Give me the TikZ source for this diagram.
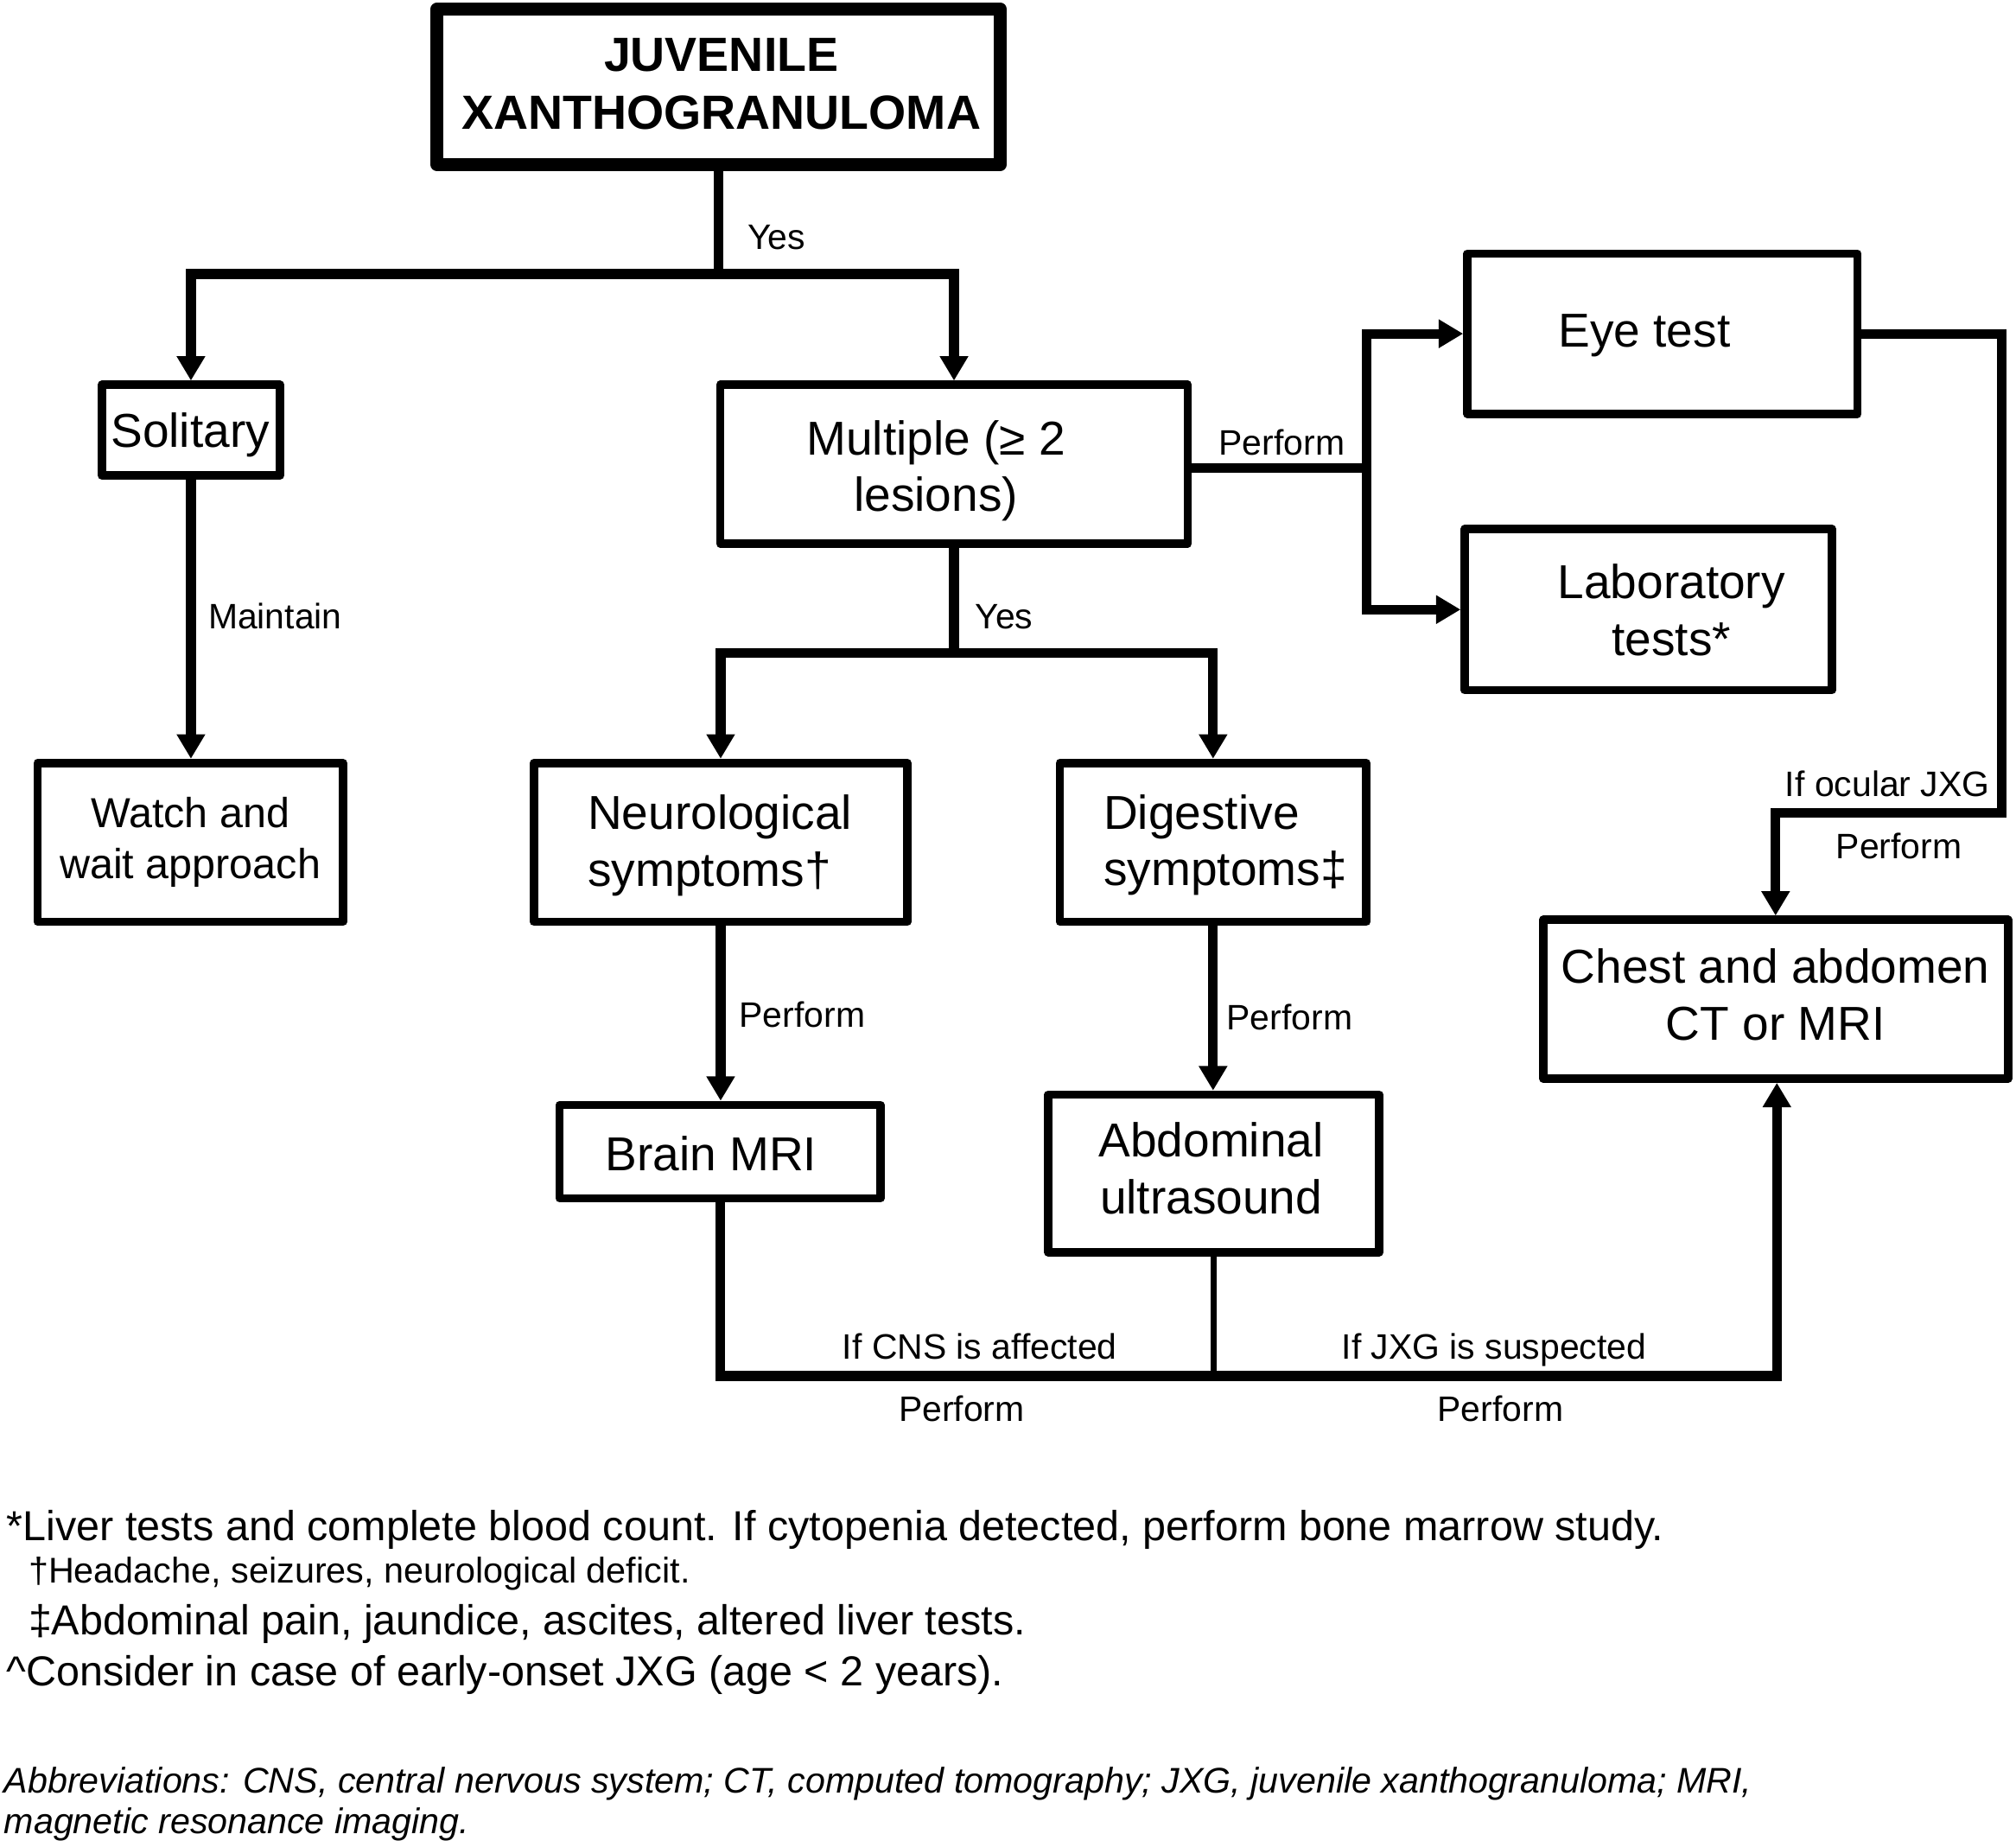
\documentclass[tikz,border=0pt]{standalone}
\usepackage{fontspec}
\setmainfont{Liberation Sans}
\usetikzlibrary{arrows.meta}
\tikzset{
 box/.style={draw, line width=6.5pt, line join=round, inner sep=0pt},
 btext/.style={inner sep=0pt, align=center, font=\fontsize{37}{44}\selectfont},
 conn/.style={line width=7.5pt},
 arr/.style={line width=7.5pt, -{Triangle[length=19pt,width=21pt]}},
 lbl/.style={inner sep=0pt, anchor=base, font=\fontsize{27.5}{33}\selectfont},
 fn/.style={inner sep=0pt, anchor=base west, font=\fontsize{32.6}{39}\selectfont},
}
\begin{document}
\begin{tikzpicture}[x=1pt,y=-1pt]
\fill[white] (0,0) rectangle (1568,1436);
\useasboundingbox (0,0) rectangle (1568,1436);

% boxes
\node[box, line width=10pt, minimum width=438pt, minimum height=121pt] (jxg) at (559,67.5) {};
\node[btext, font=\bfseries\fontsize{37.3}{45}\selectfont] (jxgt) at (561,65.5) {JUVENILE\\XANTHOGRANULOMA};
\node[box, minimum width=138.5pt, minimum height=70.5pt] (sol) at (148.5,334.5) {};
\node[btext] (solt) at (148,338.5) {Solitary};
\node[box, minimum width=363.5pt, minimum height=123.5pt] (multi) at (742,361) {};
\node[btext] (multit) at (728,366) {Multiple (≥ 2\\lesions)};
\node[box, minimum width=303.5pt, minimum height=124.5pt] (eye) at (1293,259.5) {};
\node[btext] (eyet) at (1279,261) {Eye test};
\node[box, minimum width=285.5pt, minimum height=125.5pt] (lab) at (1282,474) {};
\node[btext] (labt) at (1300,474.5) {Laboratory\\tests*};
\node[box, minimum width=237.5pt, minimum height=123.5pt] (watch) at (148,655) {};
\node[btext, font=\fontsize{32.6}{40}\selectfont] (watcht) at (148,655) {Watch and\\wait approach};
\node[box, minimum width=290.5pt, minimum height=123.5pt] (neuro) at (560.5,655) {};
\node[btext, align=left] (neurot) at (560,657.5) {Neurological\\symptoms†};
\node[box, minimum width=238.5pt, minimum height=123.5pt] (dig) at (943.5,655) {};
\node[btext, align=left] (digt) at (953,657) {Digestive\\symptoms‡};
\node[box, minimum width=249.5pt, minimum height=72.5pt] (brain) at (560,895.5) {};
\node[btext] (braint) at (553,897) {Brain MRI};
\node[box, minimum width=257.5pt, minimum height=122.5pt] (abd) at (944,912.5) {};
\node[btext] (abdt) at (942,908.5) {Abdominal\\ultrasound};
\node[box, minimum width=361.5pt, minimum height=123.5pt] (chest) at (1381,777) {};
\node[btext] (chestt) at (1381,773.5) {Chest and abdomen\\CT or MRI};

% junction coordinates
\coordinate (b1) at (559,213);
\coordinate (b2) at (1063,364);
\coordinate (b3) at (742,508);
\coordinate (c1) at (1557,632);
\coordinate (c3) at (1382,1070);

% connectors
\draw[conn] (jxg.south) -- (b1);
\draw[arr] (b1) -| (sol.north);
\draw[arr] (b1) -| (multi.north);
\draw[arr] (sol.south) -- (sol.south |- watch.north);
\draw[conn] (multi.east |- b2) -- (b2);
\draw[arr] (b2) |- (eye.west);
\draw[arr] (b2) |- (lab.west);
\draw[conn] (multi.south) -- (b3);
\draw[arr] (b3) -| (neuro.north);
\draw[arr] (b3) -| (dig.north);
\draw[arr] (neuro.south) -- (neuro.south |- brain.north);
\draw[arr] (dig.south) -- (dig.south |- abd.north);
\draw[arr] (eye.east) -| (c1) -| (chest.north);
\draw[arr] (brain.south) |- (c3) -- (c3 |- chest.south);
\draw[line width=5pt] (abd.south) -- (abd.south |- c3);

% labels
\node[lbl] (l1) at (604,194) {Yes};
\node[lbl] (l2) at (214,489) {Maintain};
\node[lbl] (l3) at (997,354) {Perform};
\node[lbl] (l4) at (781,489) {Yes};
\node[lbl] (l5) at (624,799) {Perform};
\node[lbl] (l6) at (1003,801) {Perform};
\node[lbl] (l7) at (1468,619) {If ocular JXG};
\node[lbl] (l8) at (1477,668) {Perform};
\node[lbl] (l9) at (762,1057) {If CNS is affected};
\node[lbl] (l10) at (748,1105) {Perform};
\node[lbl] (l11) at (1162,1057) {If JXG is suspected};
\node[lbl] (l12) at (1167,1105) {Perform};

% footnotes
\node[fn] (f1) at (5,1198) {*Liver tests and complete blood count. If cytopenia detected, perform bone marrow study.};
\node[fn, font=\fontsize{27.8}{33}\selectfont] (f2) at (22,1231) {†Headache, seizures, neurological deficit.};
\node[fn] (f3) at (22,1271) {‡Abdominal pain, jaundice, ascites, altered liver tests.};
\node[fn] (f4) at (5,1311) {\textasciicircum Consider in case of early-onset JXG (age < 2 years).};
\node[fn, font=\itshape\fontsize{27.7}{33}\selectfont] (ab1) at (3,1394) {Abbreviations: CNS, central nervous system; CT, computed tomography; JXG, juvenile xanthogranuloma; MRI,};
\node[fn, font=\itshape\fontsize{27.7}{33}\selectfont] (ab2) at (3,1426) {magnetic resonance imaging.};
\end{tikzpicture}
\end{document}
